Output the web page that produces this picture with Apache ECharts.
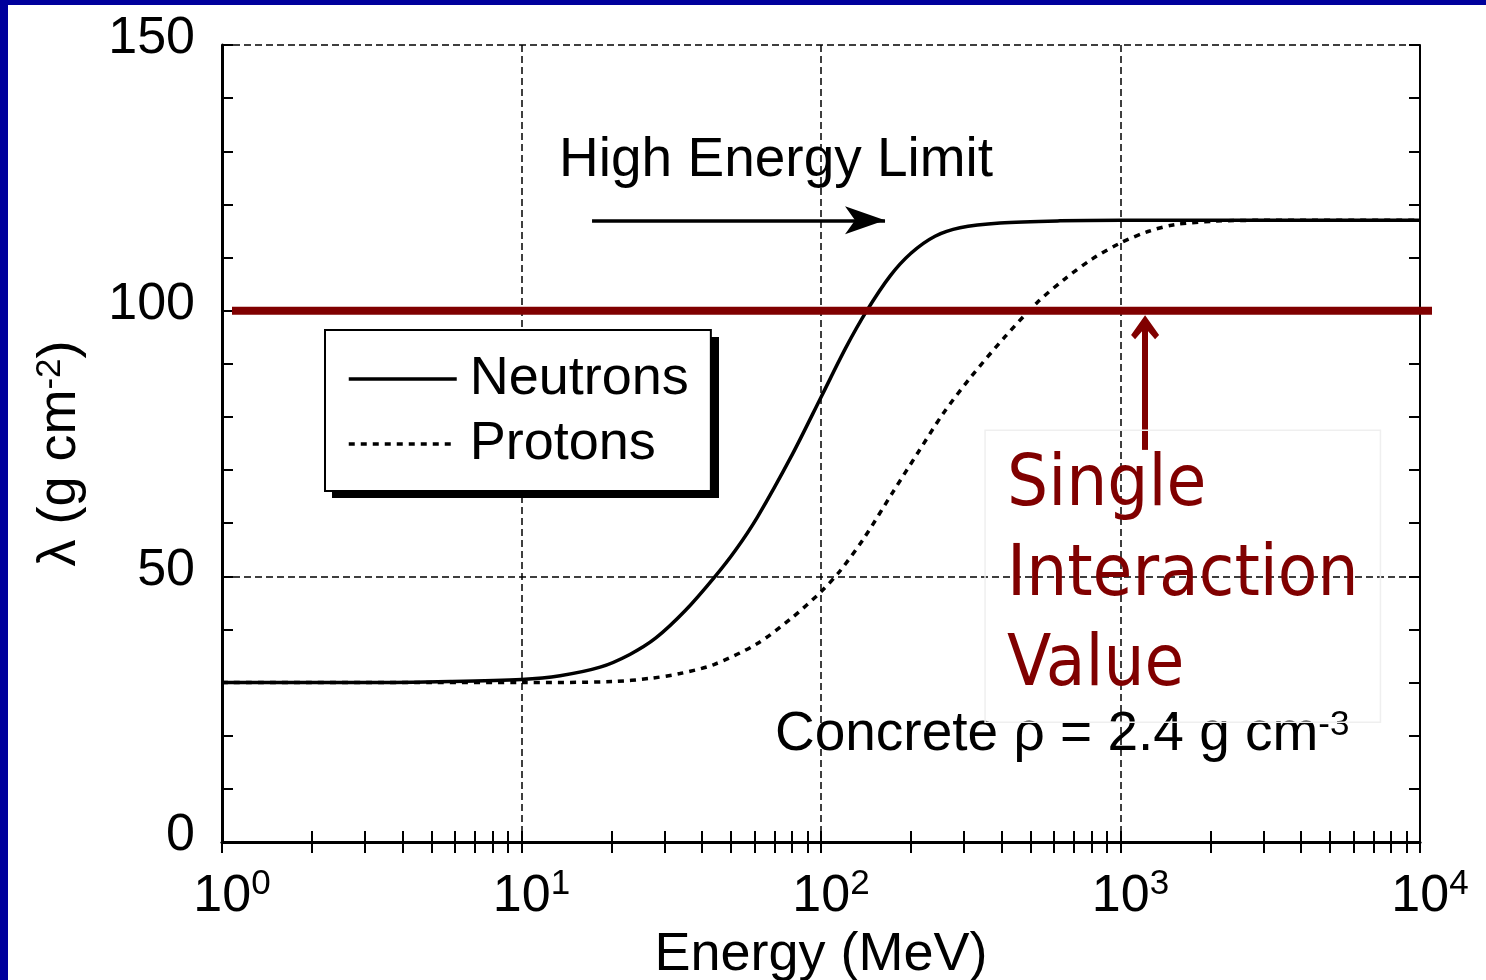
<!DOCTYPE html>
<html>
<head>
<meta charset="utf-8">
<title>Attenuation length in concrete</title>
<script src="https://cdn.jsdelivr.net/npm/echarts@6/dist/echarts.min.js"></script>
<style>
  html, body { margin: 0; padding: 0; background: #fff; }
  #chart { position: absolute; left: 0; top: 0; width: 1486px; height: 980px; }
  .frame-left { position: absolute; left: 0; top: 0; width: 8px; height: 980px; background: #00009c; }
  .frame-top { position: absolute; left: 0; top: 0; width: 1486px; height: 5px; background: #00009c; }
</style>
</head>
<body>
<div id="chart"></div>
<div class="frame-left"></div>
<div class="frame-top"></div>
<script>
// Attenuation length (g cm^-2) versus particle energy (MeV) in concrete
const neutronEnergy = [1, 3, 5.8, 10, 13.45, 18.3, 23, 28.1, 35.3, 43.9, 51.8, 61.4, 80.3, 100.4, 120.7, 141.9, 170, 199.7, 240.3, 291.1, 396, 628, 1000, 3000, 10000];
const neutronLength = [30, 30, 30.2, 30.6, 31.3, 32.9, 35.3, 38.4, 43.6, 49.7, 54.9, 61.2, 73.0, 83.9, 92.9, 99.9, 106.5, 110.8, 114.0, 115.6, 116.5, 116.9, 117, 117, 117];

const protonEnergy = [1, 5, 10, 20.2, 26.9, 33.8, 43.9, 61.1, 80, 100, 115.7, 139.2, 174, 210.8, 255.5, 314.4, 411.6, 526.3, 652.7, 803.2, 996, 1235.5, 1520.5, 2068, 2924, 10000];
const protonLength = [30, 30, 30, 30.2, 30.8, 31.7, 33.4, 37.3, 42.2, 47.1, 51.0, 57.2, 65.9, 73.3, 80.6, 87.3, 95.1, 101.5, 106.0, 109.7, 112.7, 114.9, 116.2, 116.85, 117, 117];

const energyDecades = [1, 10, 100, 1000, 10000];
const energyExponents = ['0', '1', '2', '3', '4'];
const minorSteps = [2, 3, 4, 5, 6, 7, 8, 9];
const lengthTicks = [0, 50, 100, 150];

const singleInteractionValue = 100;
const highEnergyLimit = 117;

const FONT = '"Liberation Sans", Arial, sans-serif';
const MAROON = '#800000';

// tick positions on the log axis: every integer multiple inside each decade
const energyTickValues = [];
energyDecades.forEach(function (d) {
  energyTickValues.push(d);
  if (d < energyDecades[energyDecades.length - 1]) {
    minorSteps.forEach(function (k) { energyTickValues.push(k * d); });
  }
});

const gridDash = { color: '#000', width: 1.5, type: [7, 4] };
const supStyle = { fontFamily: FONT, fontSize: 35, color: '#000', lineHeight: 14, verticalAlign: 'top' };

function energyRange() {
  return {
    type: 'log',
    logBase: 10,
    gridIndex: 0,
    min: energyDecades[0],
    max: energyDecades[energyDecades.length - 1]
  };
}

// bottom axis: decade labels and the dashed decade grid
const energyAxisMain = Object.assign(energyRange(), {
  position: 'bottom',
  name: 'Energy (MeV)',
  nameLocation: 'middle',
  nameGap: 80,
  nameTextStyle: { fontFamily: FONT, fontSize: 54, color: '#000', lineHeight: 54 },
  axisLine: { show: true, lineStyle: { color: '#000', width: 2.5 } },
  axisTick: { show: false },
  axisLabel: {
    show: true,
    margin: 25,
    formatter: function (value, index) {
      const i = energyDecades.indexOf(value);
      const exp = i >= 0 ? energyExponents[i] : energyExponents[index];
      return '{pad|}{base|10}{sup|' + exp + '}';
    },
    rich: {
      pad: { width: 20 },
      base: { fontFamily: FONT, fontSize: 52, color: '#000', lineHeight: 60 },
      sup: supStyle
    }
  },
  splitLine: { show: true, lineStyle: gridDash }
});

// tick-only axes (bottom and top) carrying the 1..9 subdivisions
function energyTickAxis(position, withLine) {
  return Object.assign(energyRange(), {
    position: position,
    axisLine: { show: withLine, lineStyle: { color: '#000', width: 3 } },
    axisTick: {
      show: true, inside: true, length: 11,
      customValues: energyTickValues,
      lineStyle: { color: '#000', width: 2 }
    },
    axisLabel: { show: false },
    splitLine: { show: false }
  });
}

function lengthAxis(position) {
  const left = position === 'left';
  return {
    type: 'value',
    gridIndex: 0,
    position: position,
    min: lengthTicks[0],
    max: lengthTicks[lengthTicks.length - 1],
    interval: lengthTicks[1] - lengthTicks[0],
    name: left ? 'λ (g cm{sup|-2})' : '',
    nameLocation: 'middle',
    nameGap: 135,
    nameRotate: 90,
    nameTextStyle: {
      fontFamily: FONT, fontSize: 54, color: '#000', lineHeight: 54,
      padding: [0, 20, 0, 0],
      rich: { sup: supStyle }
    },
    axisLine: { show: true, lineStyle: { color: '#000', width: left ? 3 : 2 } },
    axisTick: { show: true, inside: true, length: 11, lineStyle: { color: '#000', width: 2 } },
    minorTick: { show: true, splitNumber: 5, length: 11, lineStyle: { color: '#000', width: 2 } },
    axisLabel: {
      show: left,
      margin: 27,
      formatter: function (value) { return '{v|' + value + '}'; },
      rich: {
        v: { fontFamily: FONT, fontSize: 52, color: '#000', lineHeight: 52, padding: [0, 0, 12, 0] }
      }
    },
    splitLine: { show: left, lineStyle: gridDash },
    minorSplitLine: { show: false }
  };
}

const chevronUp = 'path://M14,0 L28,19 L24,23 L14,12 L4,23 L0,19 Z';

const chart = echarts.init(document.getElementById('chart'), null, { renderer: 'canvas' });

chart.setOption({
  animation: false,
  backgroundColor: '#fff',
  grid: [
    // main plotting frame
    { left: 222, right: 66, top: 45, bottom: 138, containLabel: false, outerBoundsMode: 'none' },
    // slightly wider band for the single-interaction level line, which overhangs the frame
    { left: 232, right: 54, top: 45, bottom: 138, containLabel: false, outerBoundsMode: 'none', show: false }
  ],
  xAxis: [
    energyAxisMain,
    energyTickAxis('top', true),
    energyTickAxis('bottom', false),
    { type: 'value', gridIndex: 1, min: 0, max: 1, show: false }
  ],
  yAxis: [
    lengthAxis('left'),
    lengthAxis('right'),
    { type: 'value', gridIndex: 1, min: lengthTicks[0], max: lengthTicks[lengthTicks.length - 1], show: false }
  ],
  // drop shadow behind the legend box
  graphic: [{
    type: 'rect',
    left: 332,
    top: 337,
    z: 3,
    silent: true,
    shape: { width: 387, height: 161 },
    style: { fill: '#000' }
  }],
  legend: {
    data: ['Neutrons', 'Protons'],
    orient: 'vertical',
    left: 325,
    top: 330,
    z: 5,
    padding: [22, 22, 20, 22],
    itemGap: 11,
    itemWidth: 108,
    itemHeight: 20,
    backgroundColor: '#fff',
    borderColor: '#000',
    borderWidth: 2,
    selectedMode: false,
    itemStyle: { opacity: 0 },
    lineStyle: { width: 3.5 },
    textStyle: { fontFamily: FONT, fontSize: 54, lineHeight: 54, color: '#000', padding: [0, 0, 0, 8] }
  },
  series: [
    {
      name: 'Neutrons',
      type: 'line',
      xAxisIndex: 0,
      yAxisIndex: 0,
      data: neutronEnergy.map(function (e, i) { return [e, neutronLength[i]]; }),
      showSymbol: false,
      symbol: 'none',
      smooth: 0.3,
      lineStyle: { color: '#000', width: 3.5, type: 'solid' },
      itemStyle: { color: '#000' },
      silent: true,
      z: 3,
      markLine: {
        silent: true,
        animation: false,
        label: { show: false },
        emphasis: { disabled: true },
        data: [
          [
            { coord: [17.2, highEnergyLimit], symbol: 'none', lineStyle: { color: '#000', width: 3.5, type: 'solid' } },
            { coord: [163.6, highEnergyLimit], symbol: 'arrow', symbolSize: [21, 40] }
          ],
          [
            { coord: [1208, 73.8], symbol: 'none', lineStyle: { color: MAROON, width: 6, type: 'solid' }, itemStyle: { color: MAROON } },
            { coord: [1208, 96.9], symbol: chevronUp, symbolSize: [28, 24], itemStyle: { color: MAROON } }
          ]
        ]
      },
      markPoint: {
        silent: true,
        animation: false,
        symbol: 'circle',
        symbolSize: 0,
        data: [
          {
            coord: [70.8, 128.2],
            label: {
              show: true, position: 'inside', formatter: 'High Energy Limit',
              fontFamily: FONT, fontSize: 55, color: '#000', align: 'center', verticalAlign: 'middle'
            }
          },
          {
            coord: [70.2, 20.1],
            label: {
              show: true, position: 'inside', formatter: 'Concrete ρ = 2.4 g cm{sup|-3}',
              fontFamily: FONT, fontSize: 55, color: '#000', lineHeight: 55,
              align: 'left', verticalAlign: 'middle',
              rich: { sup: supStyle }
            }
          },
          {
            coord: [353, 50.0],
            label: {
              show: true, position: 'inside', formatter: 'Single\nInteraction\nValue',
              fontFamily: '"DejaVu Sans Condensed", "DejaVu Sans", sans-serif',
              fontSize: 72, lineHeight: 90, color: MAROON,
              align: 'left', verticalAlign: 'middle',
              padding: [12, 22, 10, 22],
              borderColor: '#efefef', borderWidth: 1.5
            }
          }
        ]
      }
    },
    {
      name: 'Protons',
      type: 'line',
      xAxisIndex: 0,
      yAxisIndex: 0,
      data: protonEnergy.map(function (e, i) { return [e, protonLength[i]]; }),
      showSymbol: false,
      symbol: 'none',
      smooth: 0.3,
      lineStyle: { color: '#000', width: 3.5, type: [6, 6] },
      itemStyle: { color: '#000' },
      silent: true,
      z: 3
    },
    {
      name: 'Single interaction',
      type: 'line',
      xAxisIndex: 3,
      yAxisIndex: 2,
      data: [[0, singleInteractionValue], [1, singleInteractionValue]],
      showSymbol: false,
      symbol: 'none',
      lineStyle: { color: MAROON, width: 8 },
      itemStyle: { color: MAROON },
      silent: true,
      z: 6
    }
  ]
});
</script>
</body>
</html>
